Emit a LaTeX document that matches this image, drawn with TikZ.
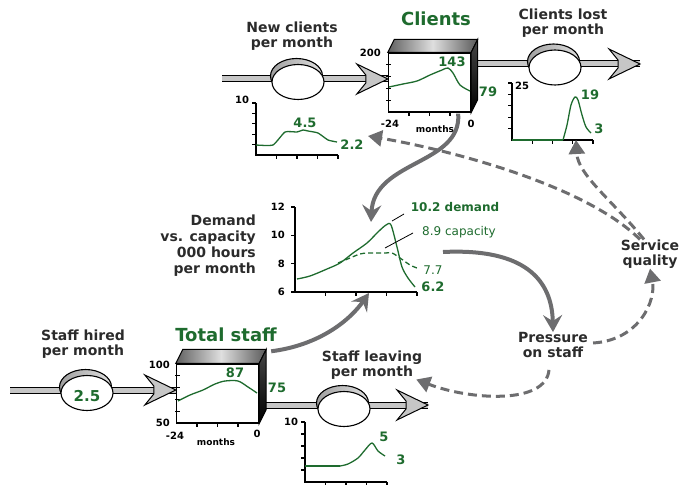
\documentclass[tikz,border=0pt]{standalone}
\usepackage{fontspec}
\setmainfont{DejaVu Sans}
\usetikzlibrary{arrows.meta,positioning,calc,shapes.geometric,backgrounds}

\definecolor{grn}{HTML}{1E6B2E}
\definecolor{ink}{HTML}{2B2B2B}
\definecolor{linkgray}{HTML}{6D6D6F}
\definecolor{pipefill}{HTML}{C6C6C6}

\begin{document}
\begin{tikzpicture}[
  x=1pt, y=-1pt,
  lbl/.style={font=\bfseries\fontsize{14}{15}\selectfont, text=ink, align=center, inner sep=0pt},
  ttl/.style={font=\bfseries\fontsize{18}{20}\selectfont, text=grn, inner sep=0pt},
  val/.style={font=\bfseries\fontsize{13}{14}\selectfont, text=grn, inner sep=0pt},
  num/.style={font=\bfseries\fontsize{10}{11}\selectfont, text=black, inner sep=0pt},
  unit/.style={font=\bfseries\fontsize{9}{10}\selectfont, text=black, inner sep=0pt},
  stock/.style={rectangle, draw=black, line width=1.4pt, fill=white,
    minimum width=82pt, minimum height=59pt, inner sep=0pt},
  topface/.style={draw=black, line width=1pt, left color=gray!75!black,
    right color=gray!70!black, middle color=gray!25},
  sideface/.style={draw=black, line width=1pt, top color=gray!55!black, bottom color=black},
  valve/.style={ellipse, draw=black, line width=1.1pt, fill=white,
    minimum width=52pt, minimum height=35pt, inner sep=0pt,
    preaction={draw=black, line width=1.1pt, left color=gray!75, right color=gray!25,
      transform canvas={shift={(-1.5pt,6pt)}}}},
  pipe/.style={draw=black, line width=1pt, double=pipefill, double distance=5pt},
  axis/.style={line width=1.3pt, black},
  trend/.style={line width=1.3pt, grn, line join=round},
  link/.style={line width=4pt, linkgray, -{Stealth[length=17pt, width=19pt, inset=6pt]}},
  effect/.style={line width=3pt, linkgray, dash pattern=on 9pt off 5pt,
    -{Triangle[length=14pt, width=16pt]}},
  pics/pipetip/.style={code={
    \draw[line width=1pt, fill=pipefill] (0,0) -- (-31,-15) .. controls (-26,-9) .. (-22,-4)
      -- (-22,4) .. controls (-26,9) .. (-31,15) -- cycle;
  }}
]
\useasboundingbox (0,0) rectangle (679,484);

% pipe ends
\coordinate (ncsrc) at (222,79);
\coordinate (clout) at (470,64);
\coordinate (lostend) at (640,64);
\coordinate (hisrc) at (10,390);
\coordinate (stout) at (257,405);
\coordinate (leaveend) at (428,405);

% ---- stocks ----
\node[stock] (clients) at (429.5,82.5) {};
\draw[topface] (clients.north west) -- ++(6.5,-13) -- ($(clients.north east)+(6.5,-13)$)
  -- (clients.north east) -- cycle;
\draw[sideface] (clients.north east) -- ++(6.5,-13) -- ($(clients.south east)+(6.5,-13)$)
  -- (clients.south east) -- cycle;

\node[stock] (staff) at (217.5,393.5) {};
\draw[topface] (staff.north west) -- ++(7,-14) -- ($(staff.north east)+(7,-14)$)
  -- (staff.north east) -- cycle;
\draw[sideface] (staff.north east) -- ++(7,-14) -- ($(staff.south east)+(7,-14)$)
  -- (staff.south east) -- cycle;

% ---- valves ----
\node[valve] (newcl) at (298,82) {};
\node[valve] (lost) at (555,67.5) {};
\node[valve] (hired) at (87,393) {};
\node[val, font=\bfseries\fontsize{15}{16}\selectfont] (hiredval) at (87,396) {2.5};
\node[valve] (leave) at (344,409) {};

\begin{scope}[on background layer]
\draw[pipe] (ncsrc) -- (ncsrc -| clients.west);
\draw[pipe] (clout) -- (lostend);
\draw[pipe] (hisrc) -- (hisrc -| staff.west);
\draw[pipe] (stout) -- (leaveend);
\end{scope}
\pic at (ncsrc -| clients.west) {pipetip};
\pic at (lostend) {pipetip};
\pic at (hisrc -| staff.west) {pipetip};
\pic at (leaveend) {pipetip};

% ---- flow and stock labels ----
\node[lbl] (newlbl) at (292,36) {New clients\\per month};
\node[lbl] (lostlbl) at (563,23) {Clients lost\\per month};
\node[lbl] (hiredlbl) at (83,344) {Staff hired\\per month};
\node[lbl] (leaving) at (372,365) {Staff leaving\\per month};
\node[ttl] (clientsttl) at (436,19) {Clients};
\node[ttl] (staffttl) at (226,335) {Total staff};
\node[lbl] (pressure) at (553,345) {Pressure\\on staff};
\node[lbl] (service) at (650,254) {Service\\quality};
\node[lbl, align=right, anchor=east, font=\bfseries\fontsize{14}{16}\selectfont]
  (dlbl) at (256,246) {Demand\\vs. capacity\\000 hours\\per month};

% ---- clients box chart ----
\foreach \i in {1,...,4} \draw[axis] (386,{53+\i*11.8}) -- (391,{53+\i*11.8});
\foreach \i in {1,...,3} \draw[axis] ({388.5+\i*20.5},112) -- ({388.5+\i*20.5},116);
\draw[trend] plot[smooth] coordinates {(389,87) (403,84) (417,81) (430,75) (442,70)
  (448,68) (453,73) (460,85) (470,91)};
\node[num, anchor=east] (cltop) at (381,53) {200};
\node[num] (clfrom) at (390,124) {-24};
\node[unit] (clmonths) at (435,129) {months};
\node[num] (clto) at (471,124) {0};
\node[val] (clpeak) at (452,62) {143};
\node[val] (clnow) at (488,92) {79};

% ---- staff box chart ----
\foreach \i in {1,...,4} \draw[axis] (175,{364+\i*11.8}) -- (180,{364+\i*11.8});
\foreach \i in {1,...,3} \draw[axis] ({176.5+\i*20.5},423) -- ({176.5+\i*20.5},427);
\draw[trend] plot[smooth] coordinates {(178,401) (190,395) (203,390) (215,384) (225,381)
  (238,381) (248,387) (257,393)};
\node[num, anchor=east] (sttop) at (170,365) {100};
\node[num, anchor=east] (stbot) at (170,423) {50};
\node[num] (stfrom) at (175,436) {-24};
\node[unit] (stmonths) at (216,442) {months};
\node[num] (stto) at (257,434) {0};
\node[val] (stpeak) at (235,373) {87};
\node[val] (stnow) at (277,388) {75};

% ---- new clients chart ----
\draw[axis] (256,103) -- (256,155) -- (338,155);
\foreach \i in {0,...,4} \draw[axis] (252,{103+\i*10.4}) -- (256,{103+\i*10.4});
\foreach \i in {1,...,4} \draw[axis] ({256+\i*20.5},155) -- ({256+\i*20.5},159);
\draw[trend] plot[smooth, tension=0.3] coordinates {(256,145) (273,145) (285,132) (297,132)
  (303,130) (308,131) (318,133) (328,140) (337,142)};
\node[num] (nctop) at (242,100) {10};
\node[val] (ncpeak) at (305,123) {4.5};
\node[val] (ncnow) at (352,145) {2.2};

% ---- clients lost chart ----
\draw[axis] (512,83) -- (512,140) -- (593,140);
\foreach \i in {0,...,4} \draw[axis] (508,{83+\i*11.4}) -- (512,{83+\i*11.4});
\foreach \i in {1,...,4} \draw[axis] ({512+\i*20.25},140) -- ({512+\i*20.25},144);
\draw[trend] (512,140) -- (563,140);
\draw[trend] plot[smooth] coordinates {(563,140) (567,125) (571,105) (575,97) (578,100)
  (582,115) (586,127) (591,133)};
\node[num] (lsttop) at (522,86) {25};
\node[val] (lstpeak) at (590,95) {19};
\node[val] (lstnow) at (599,129) {3};

% ---- demand vs capacity chart ----
\draw[axis] (295,207) -- (295,292) -- (417,292);
\foreach \v/\y in {12/207,10/235.3,8/263.7,6/292} {
  \draw[axis] (291,\y) -- (295,\y);
  \node[num, anchor=east] (dy\v) at (285,\y) {\v};
}
\foreach \i in {1,...,4} \draw[axis] ({295+\i*30.5},292) -- ({295+\i*30.5},296);
\draw[trend] plot[smooth] coordinates {(297,279) (310,276) (327,269) (340,263) (353,253)
  (367,243) (378,232) (386,225) (391,225) (397,247) (402,267) (408,278) (415,287)};
\draw[trend, dash pattern=on 5pt off 3pt] plot[smooth] coordinates {(338,263) (350,258)
  (360,254) (368,253) (385,253) (392,253) (400,258) (410,265) (417,268)};
\draw[line width=0.8pt] (392,221) -- (404,214);
\draw[line width=0.8pt] (385,248) -- (413,233);
\node[val, font=\bfseries\fontsize{12}{13}\selectfont] (dem) at (455,207) {10.2 demand};
\node[val, font=\fontsize{12}{13}\selectfont] (cap) at (459,232) {8.9 capacity};
\node[val, font=\fontsize{12}{13}\selectfont] (capnow) at (433,270) {7.7};
\node[val] (demnow) at (433,287) {6.2};

% ---- staff leaving chart ----
\draw[axis] (305,422) -- (305,482) -- (387,482);
\foreach \i in {0,...,4} \draw[axis] (301,{422+\i*12}) -- (305,{422+\i*12});
\foreach \i in {1,...,4} \draw[axis] ({305+\i*20.5},482) -- ({305+\i*20.5},486);
\draw[trend] (305,466) -- (340,466);
\draw[trend] plot[smooth] coordinates {(340,466) (348,464) (358,458) (365,450) (372,443)
  (378,451) (385,456)};
\node[num] (lvtop) at (291,422) {10};
\node[val] (lvpeak) at (384,437) {5};
\node[val] (lvnow) at (401,460) {3};

% ---- links ----
\coordinate (dtop) at (371,222);
\coordinate (daxis) at (369,293);
\coordinate (dright) at (443,252);
\coordinate (ncaxis) at (368,136);
\coordinate (lstaxis) at (576,140);
\draw[link] ($(clients.south east)+(-13,1)$) .. controls (462,165) and (374,160) .. (dtop);
\draw[link] ($(staff.north east)+(12,-12)$) .. controls (320,345) and (350,320) .. (daxis);
\draw[link] (dright) .. controls (525,248) and (552,280) .. (pressure.north);
\draw[effect] ($(pressure.east)+(5,-2)$) .. controls (640,340) and (656,300) .. (service.south);
\draw[effect] ([xshift=-6pt]service.north) .. controls (612,200) and (578,175) .. (lstaxis);
\draw[effect] ([xshift=-10pt]service.north) .. controls (585,185) and (450,150) .. (ncaxis);
\draw[effect] ($(pressure.south)+(-4,12)$) .. controls (546,405) and (470,400)
  .. ($(leaving.south east)+(-6,0)$);

\end{tikzpicture}
\end{document}
